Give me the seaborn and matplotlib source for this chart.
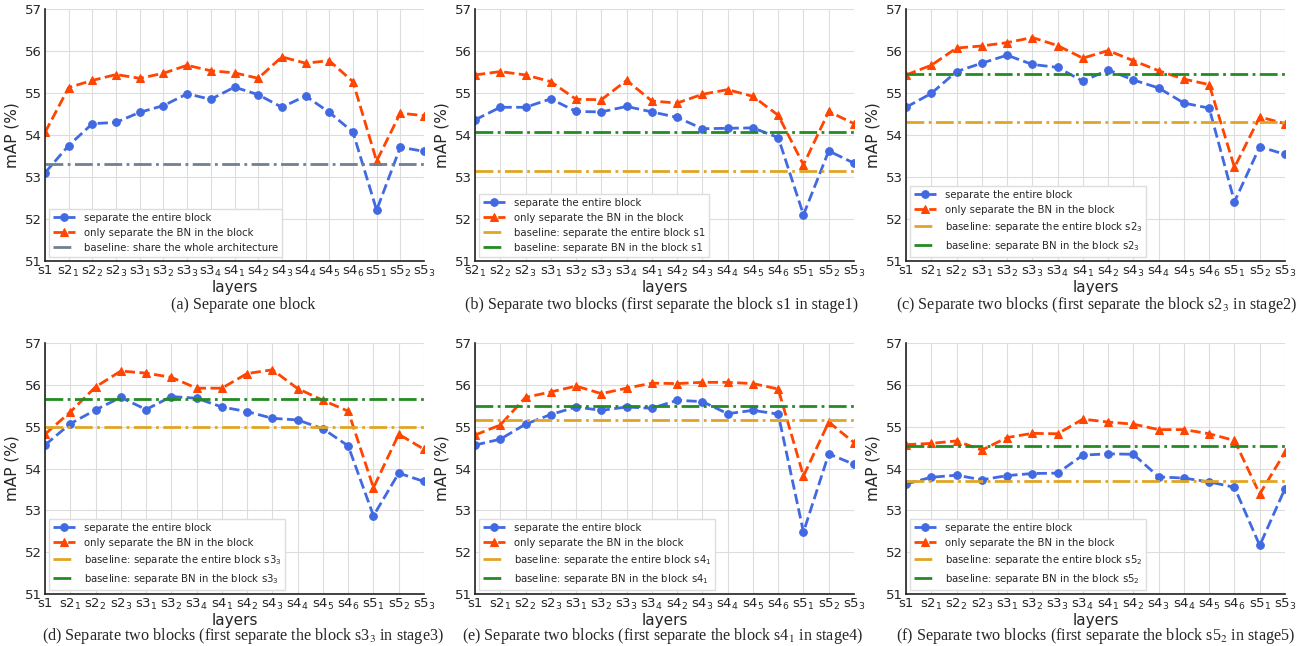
"""Layer-separation ablation: mAP when separating one or two blocks."""
import matplotlib
matplotlib.use("Agg")
import matplotlib.pyplot as plt
import numpy as np
import pandas as pd
import seaborn as sns

ALL_LAYERS = ["s1", "s2_1", "s2_2", "s2_3", "s3_1", "s3_2", "s3_3", "s3_4",
              "s4_1", "s4_2", "s4_3", "s4_4", "s4_5", "s4_6", "s5_1", "s5_2", "s5_3"]

# (a) separate one block
a_layers = ALL_LAYERS
a_entire = [53.10, 53.75, 54.27, 54.30, 54.54, 54.70, 54.98, 54.85, 55.14, 54.96,
            54.66, 54.93, 54.54, 54.07, 52.21, 53.71, 53.61]
a_bn = [54.06, 55.13, 55.30, 55.44, 55.35, 55.47, 55.66, 55.53, 55.48, 55.35,
        55.86, 55.71, 55.77, 55.27, 53.38, 54.52, 54.46]
a_base = 53.32

# (b) first separate s1
b_layers = [l for l in ALL_LAYERS if l != "s1"]
b_entire = [54.36, 54.66, 54.66, 54.86, 54.56, 54.55, 54.68, 54.55, 54.42, 54.15,
            54.16, 54.17, 53.94, 52.10, 53.62, 53.33]
b_bn = [55.43, 55.51, 55.43, 55.27, 54.85, 54.84, 55.30, 54.81, 54.76, 54.97,
        55.08, 54.92, 54.47, 53.29, 54.56, 54.27]
b_base_entire, b_base_bn = 53.14, 54.07

# (c) first separate s2_3
c_layers = [l for l in ALL_LAYERS if l != "s2_3"]
c_entire = [54.66, 54.99, 55.51, 55.71, 55.90, 55.68, 55.61, 55.28, 55.55, 55.31,
            55.12, 54.76, 54.64, 52.41, 53.72, 53.54]
c_bn = [55.43, 55.66, 56.07, 56.12, 56.20, 56.32, 56.13, 55.83, 56.01, 55.77,
        55.53, 55.33, 55.20, 53.23, 54.43, 54.27]
c_base_entire, c_base_bn = 54.30, 55.46

# (d) first separate s3_3
d_layers = [l for l in ALL_LAYERS if l != "s3_3"]
d_entire = [54.56, 55.07, 55.40, 55.70, 55.41, 55.72, 55.68, 55.47, 55.36, 55.20,
            55.16, 54.95, 54.54, 52.87, 53.89, 53.69]
d_bn = [54.82, 55.35, 55.95, 56.33, 56.28, 56.18, 55.92, 55.92, 56.27, 56.36,
        55.91, 55.63, 55.37, 53.54, 54.82, 54.46]
d_base_entire, d_base_bn = 55.00, 55.67

# (e) first separate s4_1
e_layers = [l for l in ALL_LAYERS if l != "s4_1"]
e_entire = [54.56, 54.70, 55.06, 55.29, 55.47, 55.39, 55.47, 55.44, 55.63, 55.60,
            55.31, 55.39, 55.30, 52.48, 54.35, 54.10]
e_bn = [54.80, 55.04, 55.70, 55.83, 55.97, 55.79, 55.92, 56.04, 56.03, 56.06,
        56.06, 56.03, 55.90, 53.82, 55.11, 54.62]
e_base_entire, e_base_bn = 55.16, 55.49

# (f) first separate s5_2
f_layers = [l for l in ALL_LAYERS if l != "s5_2"]
f_entire = [53.63, 53.79, 53.84, 53.73, 53.83, 53.88, 53.89, 54.32, 54.35, 54.34,
            53.80, 53.77, 53.68, 53.55, 52.16, 53.52]
f_bn = [54.57, 54.60, 54.66, 54.44, 54.74, 54.84, 54.83, 55.18, 55.11, 55.06,
        54.93, 54.93, 54.83, 54.67, 53.39, 54.39]
f_base_entire, f_base_bn = 53.71, 54.53

CAPTIONS = [
    "(a) Separate one block",
    "(b) Separate two blocks (first separate the block s1 in stage1)",
    "(c) Separate two blocks (first separate the block s2$_3$ in stage2)",
    "(d) Separate two blocks (first separate the block s3$_3$ in stage3)",
    "(e) Separate two blocks (first separate the block s4$_1$ in stage4)",
    "(f) Separate two blocks (first separate the block s5$_2$ in stage5)",
]

BLUE = "#4169E1"
RED = "#FF4500"
GRAY = "#708090"
GOLD = "#E0A526"
GREEN = "#228B22"


def tick_label(layer):
    if "_" in layer:
        base, sub = layer.split("_")
        return f"{base}$_{sub}$"
    return layer


def draw_panel(ax, layers, entire, bn, baselines):
    df = pd.DataFrame({"pos": np.arange(len(layers)), "entire": entire, "bn": bn})
    sns.lineplot(data=df, x="pos", y="entire", ax=ax, color=BLUE, linestyle="--",
                 marker="o", markersize=5.5, linewidth=2, markeredgecolor=BLUE,
                 label="separate the entire block")
    sns.lineplot(data=df, x="pos", y="bn", ax=ax, color=RED, linestyle="--",
                 marker="^", markersize=6, linewidth=2, markeredgecolor=RED,
                 label="only separate the BN in the block")
    for value, color, label in baselines:
        ax.axhline(value, color=color, linestyle="-.", linewidth=2, label=label)

    ax.set_xlim(0, len(layers) - 1)
    ax.set_ylim(51, 57)
    ax.set_xticks(np.arange(len(layers)))
    ax.set_xticklabels([tick_label(l) for l in layers])
    ax.set_yticks(range(51, 58))
    ax.tick_params(axis="both", direction="in", labelsize=9.5, length=4, pad=2,
                   color="#333333")
    ax.set_xlabel("layers", fontsize=11, labelpad=1)
    ax.set_ylabel("mAP (%)", fontsize=11, labelpad=4)
    ax.grid(True, color="#DDDDDD", linewidth=0.8)
    for side in ["top", "right"]:
        ax.spines[side].set_visible(False)
    for side in ["left", "bottom"]:
        ax.spines[side].set_color("#222222")
        ax.spines[side].set_linewidth(1.2)
    ax.legend(loc="lower left", fontsize=7.3, frameon=True, framealpha=1,
              edgecolor="#DDDDDD", fancybox=False, borderaxespad=0.4,
              labelspacing=0.5, handlelength=2.2)


sns.set_style("whitegrid")
fig = plt.figure(figsize=(13.08, 6.46), dpi=100)

lefts = [45, 475, 906]
width = 379
rows = [(9, 261), (343, 594)]
H = 646
W = 1308

panels = [
    (a_layers, a_entire, a_bn, [(a_base, GRAY, "baseline: share the whole architecture")]),
    (b_layers, b_entire, b_bn, [(b_base_entire, GOLD, "baseline: separate the entire block s1"),
                                (b_base_bn, GREEN, "baseline: separate BN in the block s1")]),
    (c_layers, c_entire, c_bn, [(c_base_entire, GOLD, "baseline: separate the entire block s2$_3$"),
                                (c_base_bn, GREEN, "baseline: separate BN in the block s2$_3$")]),
    (d_layers, d_entire, d_bn, [(d_base_entire, GOLD, "baseline: separate the entire block s3$_3$"),
                                (d_base_bn, GREEN, "baseline: separate BN in the block s3$_3$")]),
    (e_layers, e_entire, e_bn, [(e_base_entire, GOLD, "baseline: separate the entire block s4$_1$"),
                                (e_base_bn, GREEN, "baseline: separate BN in the block s4$_1$")]),
    (f_layers, f_entire, f_bn, [(f_base_entire, GOLD, "baseline: separate the entire block s5$_2$"),
                                (f_base_bn, GREEN, "baseline: separate BN in the block s5$_2$")]),
]

cap_centres = [243, 662, 1096]

for i, (layers, entire, bn, baselines) in enumerate(panels):
    r, c = divmod(i, 3)
    top, bottom = rows[r]
    ax = fig.add_axes([lefts[c] / W, (H - bottom) / H, width / W, (bottom - top) / H])
    draw_panel(ax, layers, entire, bn, baselines)
    cap_y = 305 if r == 0 else 636
    fig.text(cap_centres[c] / W, (H - cap_y) / H, CAPTIONS[i], ha="center",
             va="center", fontsize=11.6, family="Liberation Serif", math_fontfamily="stix")

fig.savefig("out.png", dpi=100)
